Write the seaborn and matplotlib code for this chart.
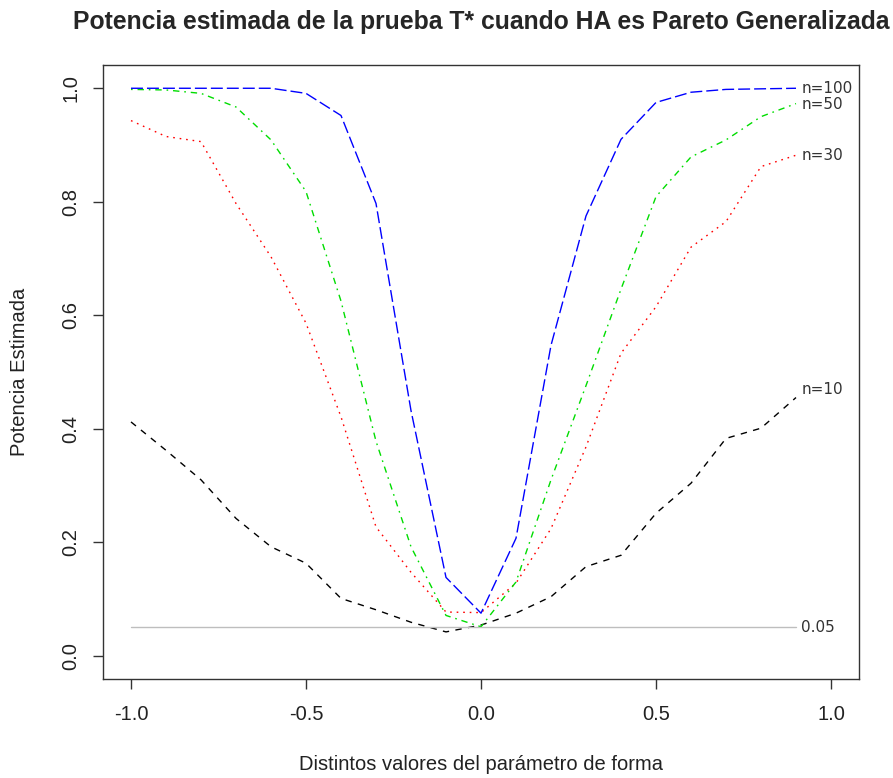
import numpy as np
import pandas as pd
import matplotlib
matplotlib.use("Agg")
import matplotlib.pyplot as plt
import seaborn as sns

# Valores del parámetro de forma
forma = [-1.0, -0.9, -0.8, -0.7, -0.6, -0.5, -0.4, -0.3, -0.2, -0.1,
         0.0, 0.1, 0.2, 0.3, 0.4, 0.5, 0.6, 0.7, 0.8, 0.9]

# Potencia estimada por tamaño de muestra
pot_n10 = [0.412, 0.362, 0.310, 0.242, 0.192, 0.163, 0.101, 0.081, 0.059, 0.042,
           0.054, 0.075, 0.104, 0.157, 0.177, 0.251, 0.304, 0.383, 0.401, 0.455]
pot_n30 = [0.943, 0.915, 0.906, 0.797, 0.703, 0.586, 0.421, 0.227, 0.147, 0.077,
           0.076, 0.128, 0.224, 0.368, 0.533, 0.615, 0.720, 0.765, 0.862, 0.882]
pot_n50 = [0.998, 0.997, 0.991, 0.967, 0.909, 0.818, 0.625, 0.378, 0.192, 0.071,
           0.051, 0.130, 0.310, 0.476, 0.646, 0.809, 0.879, 0.909, 0.950, 0.973]
pot_n100 = [1.000, 1.000, 1.000, 1.000, 1.000, 0.991, 0.952, 0.797, 0.432, 0.138,
            0.075, 0.207, 0.547, 0.775, 0.910, 0.975, 0.993, 0.998, 0.999, 1.000]

etiquetas = ["n=10", "n=30", "n=50", "n=100"]
nivel = 0.05

sns.set_style("white")
plt.rcParams['font.family'] = ['Liberation Sans', 'DejaVu Sans']
plt.rcParams['lines.scale_dashes'] = False

fig = plt.figure(figsize=(8.93, 7.78), dpi=100)
ax = fig.add_axes([103 / 893, 1 - 679 / 778, 756 / 893, 614 / 778])

series = [
    (pot_n10, "black", (4.6, 4.6)),
    (pot_n30, "#FF0000", (1.2, 3.5)),
    (pot_n50, "#00DD00", (1.2, 3.5, 4.6, 3.5)),
    (pot_n100, "#0000FF", (8.6, 2.9)),
]

for (vals, color, dash), etiqueta in zip(series, etiquetas):
    df = pd.DataFrame({"forma": forma, "potencia": vals})
    sns.lineplot(data=df, x="forma", y="potencia", ax=ax, color=color, lw=1.0)
    ax.lines[-1].set_dashes(dash)

# Línea del nivel de significancia
ax.plot([forma[0], forma[-1]], [nivel, nivel], color="#BEBEBE", lw=1.0)

# Etiquetas al final de las curvas
txt_kw = dict(fontsize=11, color="#333333", family=["DejaVu Sans"],
              ha="left", va="center")
ax.text(forma[-1] + 0.015, pot_n100[-1], etiquetas[3], **txt_kw)
ax.text(forma[-1] + 0.015, pot_n50[-1] - 0.002, etiquetas[2], **txt_kw)
ax.text(forma[-1] + 0.015, pot_n30[-1], etiquetas[1], **txt_kw)
ax.text(forma[-1] + 0.015, pot_n10[-1] + 0.015, etiquetas[0], **txt_kw)
ax.text(forma[-1] + 0.015, nivel, f"{nivel:.2f}", **txt_kw)

ax.set_xlim(-1.08, 1.08)
ax.set_ylim(-0.041, 1.041)
ax.set_xticks([-1.0, -0.5, 0.0, 0.5, 1.0])
ax.set_xticklabels(["-1.0", "-0.5", "0.0", "0.5", "1.0"])
ax.set_yticks([0.0, 0.2, 0.4, 0.6, 0.8, 1.0])
ax.set_yticklabels(["0.0", "0.2", "0.4", "0.6", "0.8", "1.0"],
                   rotation=90, va="center")

ax.tick_params(axis="both", direction="out", length=7.5, width=1.0,
               color="#333333", labelsize=14.5, labelcolor="#222222",
               bottom=True, left=True)
ax.tick_params(axis="x", pad=11)
ax.tick_params(axis="y", pad=9)
for sp in ax.spines.values():
    sp.set_color("#333333")
    sp.set_linewidth(1.0)

ax.set_xlabel("Distintos valores del parámetro de forma", fontsize=14.5, color="#222222")
ax.set_ylabel("Potencia Estimada", fontsize=14.5, color="#222222")
ax.xaxis.set_label_coords(0.5, -(765 - 679) / 614)
ax.xaxis.label.set_va("center")
ax.yaxis.set_label_coords(-(103 - 20) / 756, 0.5)
ax.yaxis.label.set_va("center")

ax.set_title("Potencia estimada de la prueba T* cuando HA es Pareto Generalizada",
             fontsize=17.8, fontweight="bold", y=1 + (65 - 22) / 614, va="center", pad=0)

fig.savefig("out.png", dpi=100)
